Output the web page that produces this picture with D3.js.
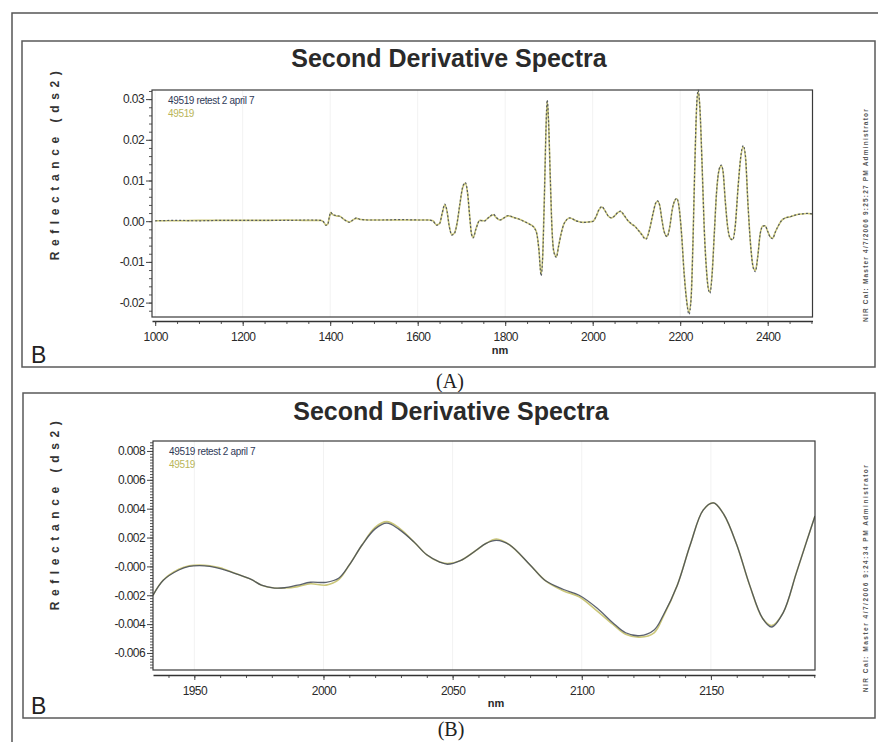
<!DOCTYPE html>
<html><head><meta charset="utf-8">
<script src="https://cdn.jsdelivr.net/npm/d3@7"></script>
<style>body{margin:0;background:#fff}svg{display:block}</style>
</head><body>
<script>
const titleText = "Second Derivative Spectra";
const seriesNames = ["49519 retest 2 april 7", "49519"];
const yLabelText = "Reflectance (ds2)";
const xLabelText = "nm";
const stampA = "NIR Cal: Master 4/7/2006 9:25:27 PM Administrator";
const stampB = "NIR Cal: Master 4/7/2006 9:24:34 PM Administrator";

// ---- Panel A: full range ----
const wlA = [1000,1050,1100,1150,1200,1250,1300,1350,1378,1385,1390,1394,1398,1401,1406,1414,1422,1432,1444,1452,1460,1470,1485,1520,1560,1600,1625,1635,1643,1650,1656,1662,1667,1672,1678,1684,1690,1696,1703,1709,1714,1719,1723,1727,1733,1742,1752,1762,1773,1780,1788,1797,1807,1820,1834,1846,1857,1866,1872,1877,1882,1886,1890,1893,1896,1899,1903,1907,1911,1917,1922,1928,1935,1948,1962,1978,1990,2001,2008,2014,2021,2028,2036,2043,2050,2057,2064,2071,2080,2089,2097,2104,2112,2118,2122,2130,2138,2144,2148,2153,2158,2163,2170,2176,2182,2188,2192,2197,2203,2209,2215,2220,2225,2229,2233,2237,2241,2245,2250,2255,2260,2264,2268,2273,2278,2283,2289,2294,2298,2303,2308,2314,2320,2326,2332,2338,2344,2349,2355,2361,2367,2372,2377,2383,2389,2394,2400,2406,2411,2418,2424,2432,2440,2452,2466,2480,2490,2502];
const retestA = [0.0001,0.0002,0.0001,0.0002,0.0002,0.0002,0.0002,0.0003,0.0002,-0.0002,-0.0010,-0.0009,0.0010,0.0022,0.0016,0.0014,0.0012,0.0004,-0.0003,0.0003,0.0008,0.0004,0.0003,0.0003,0.0004,0.0003,0.0003,0.0000,-0.0010,-0.0006,0.0020,0.0042,0.0025,-0.0012,-0.0034,-0.0030,-0.0005,0.0040,0.0085,0.0095,0.0070,0.0010,-0.0032,-0.0041,-0.0020,0.0002,0.0000,0.0009,0.0017,0.0009,0.0003,0.0008,0.0014,0.0009,0.0004,-0.0002,-0.0008,-0.0016,-0.0030,-0.0070,-0.0134,-0.0080,0.0080,0.0220,0.0298,0.0250,0.0110,-0.0020,-0.0075,-0.0089,-0.0062,-0.0030,-0.0005,0.0008,0.0001,-0.0003,-0.0002,0.0000,0.0012,0.0028,0.0036,0.0026,0.0012,0.0008,0.0013,0.0021,0.0025,0.0016,0.0002,-0.0007,-0.0013,-0.0022,-0.0033,-0.0042,-0.0044,-0.0020,0.0020,0.0045,0.0050,0.0040,0.0005,-0.0025,-0.0038,-0.0015,0.0030,0.0052,0.0056,0.0038,-0.0030,-0.0130,-0.0200,-0.0229,-0.0190,-0.0060,0.0120,0.0270,0.0322,0.0280,0.0140,-0.0020,-0.0120,-0.0165,-0.0177,-0.0130,-0.0030,0.0070,0.0128,0.0138,0.0122,0.0050,-0.0010,-0.0042,-0.0046,-0.0010,0.0080,0.0155,0.0186,0.0162,0.0040,-0.0060,-0.0115,-0.0124,-0.0090,-0.0030,-0.0012,-0.0011,-0.0025,-0.0040,-0.0043,-0.0025,-0.0012,0.0002,0.0008,0.0011,0.0016,0.0018,0.0019,0.0018];
const sampleA = [0.0001,0.0001,0.0002,0.0002,0.0002,0.0002,0.0003,0.0002,0.0002,-0.0002,-0.0009,-0.0008,0.0009,0.0021,0.0016,0.0013,0.0012,0.0004,-0.0002,0.0003,0.0007,0.0004,0.0003,0.0003,0.0003,0.0003,0.0003,0.0001,-0.0009,-0.0006,0.0019,0.0040,0.0024,-0.0011,-0.0033,-0.0029,-0.0005,0.0038,0.0083,0.0093,0.0069,0.0010,-0.0031,-0.0040,-0.0019,0.0002,0.0001,0.0009,0.0016,0.0008,0.0003,0.0008,0.0013,0.0009,0.0004,-0.0002,-0.0008,-0.0015,-0.0029,-0.0068,-0.0130,-0.0078,0.0078,0.0216,0.0295,0.0247,0.0108,-0.0020,-0.0073,-0.0087,-0.0061,-0.0030,-0.0005,0.0008,0.0001,-0.0003,-0.0002,0.0000,0.0012,0.0027,0.0035,0.0026,0.0012,0.0008,0.0013,0.0021,0.0024,0.0015,0.0002,-0.0007,-0.0013,-0.0022,-0.0032,-0.0041,-0.0043,-0.0020,0.0019,0.0044,0.0049,0.0039,0.0005,-0.0024,-0.0037,-0.0015,0.0029,0.0051,0.0055,0.0037,-0.0029,-0.0127,-0.0196,-0.0224,-0.0186,-0.0058,0.0118,0.0266,0.0318,0.0277,0.0139,-0.0020,-0.0118,-0.0163,-0.0174,-0.0128,-0.0030,0.0069,0.0126,0.0136,0.0121,0.0050,-0.0010,-0.0041,-0.0045,-0.0010,0.0079,0.0153,0.0183,0.0160,0.0040,-0.0059,-0.0113,-0.0121,-0.0089,-0.0030,-0.0012,-0.0011,-0.0025,-0.0039,-0.0042,-0.0025,-0.0012,0.0002,0.0008,0.0011,0.0016,0.0018,0.0019,0.0018];
const xTicksA = [1000,1200,1400,1600,1800,2000,2200,2400];
const yTicksA = [0.03,0.02,0.01,0,-0.01,-0.02];
const yTickLabelsA = ["0.03","0.02","0.01","0.00","-0.01","-0.02"];

// ---- Panel B: zoomed range ----
const wlB = [1934,1938,1944,1948,1952,1956,1960,1966,1972,1976,1981,1985,1990,1995,2001,2006,2010,2015,2020,2024.5,2029,2035,2040,2045,2048,2053,2059,2063,2067,2072,2080,2086,2093,2099,2106,2112,2117,2122.5,2128,2131.5,2137,2142,2147,2151,2155,2160,2165,2170,2173.5,2178,2183,2187,2190.3];
const retestB = [-0.0020,-0.00096,-0.00025,0.0,0.00006,0.0,-0.00015,-0.0005,-0.0009,-0.0013,-0.0015,-0.00148,-0.0013,-0.0011,-0.0011,-0.0008,0.0001,0.0015,0.0026,0.0030,0.0026,0.0017,0.0008,0.0003,0.00015,0.0004,0.0011,0.0016,0.0018,0.0015,0.0001,-0.0010,-0.0016,-0.0020,-0.0029,-0.0039,-0.0046,-0.0048,-0.0044,-0.0034,-0.0013,0.0015,0.0039,0.0044,0.0036,0.0015,-0.0013,-0.0036,-0.0042,-0.0032,-0.0005,0.0017,0.0035];
const sampleB = [-0.0020,-0.00094,-0.0002,0.00005,0.0001,0.00005,-0.0001,-0.0005,-0.0009,-0.0013,-0.0015,-0.0015,-0.0014,-0.0012,-0.0013,-0.0009,0.0001,0.0015,0.0027,0.0031,0.0027,0.0017,0.0008,0.0003,0.0002,0.0004,0.0011,0.0016,0.0019,0.0015,0.0001,-0.0010,-0.0017,-0.0021,-0.0031,-0.0040,-0.0047,-0.0049,-0.0046,-0.0035,-0.0013,0.0015,0.0039,0.0044,0.0036,0.0015,-0.0013,-0.0036,-0.0041,-0.0032,-0.0005,0.0017,0.0035];
const xTicksB = [1950,2000,2050,2100,2150];
const yTicksB = [0.008,0.006,0.004,0.002,0,-0.002,-0.004,-0.006];
const yTickLabelsB = ["0.008","0.006","0.004","0.002","-0.000","-0.002","-0.004","-0.006"];

const W = 878, H = 742;
const svg = d3.select("body").append("svg").attr("width", W).attr("height", H);
svg.append("rect").attr("width", W).attr("height", H).attr("fill", "#fff");

// outer frame
svg.append("path").attr("d", "M12,742 L12,13 L878,13").attr("fill", "none")
  .attr("stroke", "#555").attr("stroke-width", 1.5);

const SANS = "'Liberation Sans', Arial, sans-serif";
const DARK = "#3f4656", YEL = "#cbc77a";

function panel(cfg) {
  const g = svg.append("g");
  g.append("rect").attr("x", cfg.fx).attr("y", cfg.fy).attr("width", cfg.fw).attr("height", cfg.fh)
    .attr("fill", "#fff").attr("stroke", "#5a5a5a").attr("stroke-width", 1.5);
  g.append("text").attr("x", cfg.titleX).attr("y", cfg.titleY).attr("text-anchor", "middle")
    .attr("font-family", SANS).attr("font-weight", "bold").attr("font-size", 25)
    .attr("fill", "#2a2a2a").text(titleText);

  const x = d3.scaleLinear().domain(cfg.xDom).range([cfg.left, cfg.right]);
  const y = d3.scaleLinear().domain(cfg.yDom).range([cfg.bottom, cfg.top]);

  g.append("g").selectAll("line").data(cfg.xTicks).join("line")
    .attr("x1", d => x(d)).attr("x2", d => x(d)).attr("y1", cfg.top).attr("y2", cfg.bottom)
    .attr("stroke", "#f2f2f2").attr("stroke-width", 1);

  const yMinor = g.append("g").attr("transform", `translate(${cfg.left},0)`)
    .call(d3.axisLeft(y).tickValues(cfg.yMinor).tickSize(3).tickFormat("").tickSizeOuter(0));
  yMinor.select(".domain").remove();
  yMinor.selectAll("line").attr("stroke", "#555");
  const yAx = g.append("g").attr("transform", `translate(${cfg.left},0)`)
    .call(d3.axisLeft(y).tickValues(cfg.yTicks).tickFormat((d, i) => cfg.yLabels[i]).tickSize(6).tickPadding(2).tickSizeOuter(0));
  yAx.select(".domain").remove();
  yAx.selectAll("line").attr("stroke", "#444");
  yAx.selectAll("text").attr("font-family", SANS).attr("font-size", 12).attr("letter-spacing", -0.6).attr("fill", "#2a2a2a");

  const xMinor = g.append("g").attr("transform", `translate(0,${cfg.axisY})`)
    .call(d3.axisBottom(x).tickValues(cfg.xMinor).tickSize(3).tickFormat("").tickSizeOuter(0));
  xMinor.select(".domain").remove();
  xMinor.selectAll("line").attr("stroke", "#555");
  const xAx = g.append("g").attr("transform", `translate(0,${cfg.axisY})`)
    .call(d3.axisBottom(x).tickValues(cfg.xTicks).tickFormat(d3.format("d")).tickSize(5).tickPadding(cfg.xPad).tickSizeOuter(0));
  xAx.select(".domain").attr("stroke", "#333").attr("stroke-width", 1.6);
  xAx.selectAll("line").attr("stroke", "#444");
  xAx.selectAll("text").attr("font-family", SANS).attr("font-size", 12).attr("letter-spacing", -0.6).attr("fill", "#2a2a2a");

  g.append("text").attr("x", cfg.nmX).attr("y", cfg.nmY).attr("text-anchor", "middle")
    .attr("font-family", SANS).attr("font-weight", "bold").attr("font-size", 11).attr("fill", "#2a2a2a").text(xLabelText);

  g.append("text").attr("transform", `translate(${cfg.ylX},${cfg.ylY}) rotate(-90)`)
    .attr("text-anchor", "middle").attr("font-family", SANS).attr("font-weight", "bold")
    .attr("font-size", 12).attr("letter-spacing", cfg.ylSpacing).attr("fill", "#333").text(yLabelText);

  const clipId = "clip" + cfg.id;
  svg.append("defs").append("clipPath").attr("id", clipId).append("rect")
    .attr("x", cfg.left).attr("y", cfg.top - 1).attr("width", cfg.right - cfg.left).attr("height", cfg.bottom - cfg.top + 2);
  const line = d3.line().x(d => x(d[0])).y(d => y(d[1])).curve(cfg.curve);
  const lg = g.append("g").attr("clip-path", `url(#${clipId})`);
  lg.append("path").datum(cfg.wl.map((w, i) => [w, cfg.s2[i]])).attr("d", line)
    .attr("fill", "none").attr("stroke", YEL).attr("stroke-width", cfg.yelW);
  lg.append("path").datum(cfg.wl.map((w, i) => [w, cfg.s1[i]])).attr("d", line)
    .attr("fill", "none").attr("stroke", DARK).attr("stroke-width", cfg.darkW)
    .attr("stroke-dasharray", cfg.dash).attr("opacity", cfg.darkOp);

  g.append("rect").attr("x", cfg.left).attr("y", cfg.top).attr("width", cfg.right - cfg.left)
    .attr("height", cfg.bottom - cfg.top).attr("fill", "none").attr("stroke", "#3a3a3a").attr("stroke-width", 1.2);

  g.append("text").attr("x", cfg.left + 16).attr("y", cfg.top + 14).attr("font-family", SANS)
    .attr("font-size", 10).attr("letter-spacing", -0.35).attr("fill", "#2f3a58").text(seriesNames[0]);
  g.append("text").attr("x", cfg.left + 16).attr("y", cfg.top + 26.5).attr("font-family", SANS)
    .attr("font-size", 10).attr("letter-spacing", -0.35).attr("fill", "#b9b55a").text(seriesNames[1]);

  g.append("text").attr("x", 31).attr("y", cfg.bY).attr("font-family", SANS).attr("font-size", 23)
    .attr("fill", "#222").text("B");

  g.append("text").attr("transform", `translate(868,${cfg.stampY}) rotate(-90)`).attr("text-anchor", "middle")
    .attr("font-family", SANS).attr("font-weight", "bold").attr("font-size", 6.5)
    .attr("letter-spacing", cfg.stampSp).attr("fill", "#555").text(cfg.stamp);

  g.append("text").attr("x", cfg.capX).attr("y", cfg.capY).attr("text-anchor", "middle")
    .attr("font-family", "'Liberation Serif', 'Times New Roman', serif").attr("font-size", 20)
    .attr("fill", "#222").text(cfg.caption);
}

panel({
  id: "A", fx: 22, fy: 41, fw: 853, fh: 326,
  titleX: 449, titleY: 67,
  left: 152, right: 812.5, top: 90, bottom: 317, axisY: 321, xPad: 6,
  xDom: [992.7, 2502.4], yDom: [-0.02354, 0.03224],
  xTicks: xTicksA, xMinor: d3.range(1000, 2501, 50),
  yTicks: yTicksA, yLabels: yTickLabelsA, yMinor: d3.range(-0.022, 0.0321, 0.002),
  nmX: 500, nmY: 354, ylX: 59, ylY: 163, ylSpacing: 5.6,
  wl: wlA, s1: retestA, s2: sampleA, yelW: 1.6, darkW: 1.2, dash: "2,2", darkOp: 0.85,
  curve: d3.curveMonotoneX,
  bY: 363, stamp: stampA, stampY: 215, stampSp: 1.2,
  caption: "(A)", capX: 450, capY: 388
});

panel({
  id: "B", fx: 23, fy: 393, fw: 852, fh: 325,
  titleX: 451, titleY: 420,
  left: 153, right: 815, top: 441, bottom: 670, axisY: 675, xPad: 6,
  xDom: [1934.0, 2190.3], yDom: [-0.00718, 0.00869],
  xTicks: xTicksB, xMinor: d3.range(1940, 2191, 10),
  yTicks: yTicksB, yLabels: yTickLabelsB, yMinor: d3.range(-0.007, 0.00861, 0.0002),
  nmX: 496, nmY: 707, ylX: 59, ylY: 513, ylSpacing: 5.6,
  wl: wlB, s1: retestB, s2: sampleB, yelW: 1.6, darkW: 1.3, dash: null, darkOp: 0.85,
  curve: d3.curveCatmullRom,
  bY: 714, stamp: stampB, stampY: 578, stampSp: 1.5,
  caption: "(B)", capX: 451, capY: 736
});
</script>
</body></html>
